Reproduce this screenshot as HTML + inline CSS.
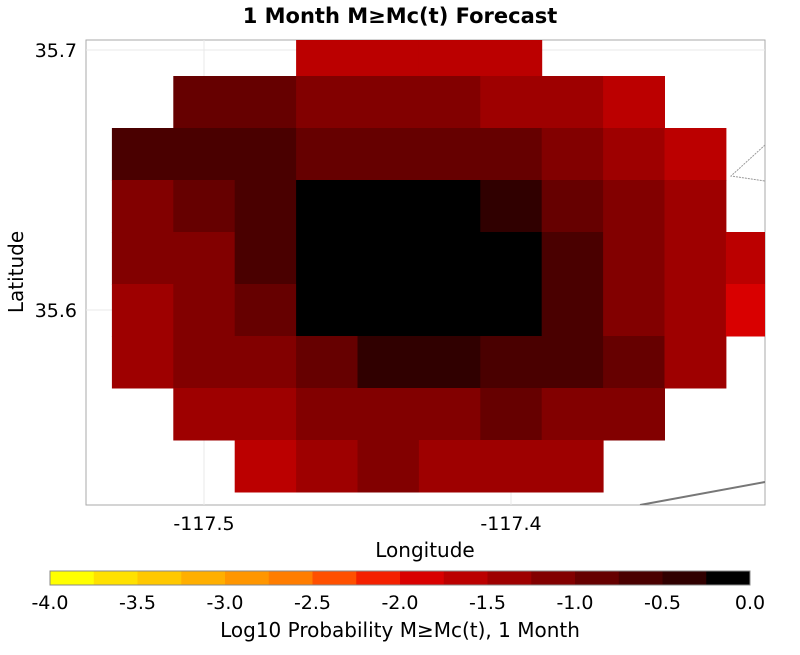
<!DOCTYPE html>
<html><head><meta charset="utf-8"><style>
body{margin:0;background:#fff;font-family:"Liberation Sans","DejaVu Sans",sans-serif}
</style></head><body>
<svg id="chart" width="800" height="650" xmlns="http://www.w3.org/2000/svg" font-family="DejaVu Sans, Liberation Sans, sans-serif">
<defs><clipPath id="pc"><rect x="86" y="40" width="679" height="465"/></clipPath></defs>
<text x="400" y="23" text-anchor="middle" font-size="21" font-weight="bold">1 Month M≥Mc(t) Forecast</text>
<rect x="86" y="40" width="679" height="465" fill="#fff" stroke="#aaa"/>
<g id="grid" stroke="#e8e8e8" stroke-width="1"></g>
<g id="cells" clip-path="url(#pc)"></g>
<g clip-path="url(#pc)">
<polyline points="765,145 731,176 765,181" fill="none" stroke="#999" stroke-dasharray="2,1" stroke-width="1"/>
<line x1="640" y1="505" x2="765" y2="482" stroke="#777" stroke-width="2"/>
</g>
<g id="axes" font-size="19" fill="#000"></g>
<text x="425" y="557" text-anchor="middle" font-size="20">Longitude</text>
<text transform="translate(23,272) rotate(-90)" text-anchor="middle" font-size="20">Latitude</text>
<g id="cbar"></g>
<text x="400" y="637" text-anchor="middle" font-size="20">Log10 Probability M≥Mc(t), 1 Month</text>
</svg>
<script>
const lonCenters=[-117.52,-117.50,-117.48,-117.46,-117.44,-117.42,-117.40,-117.38,-117.36,-117.34,-117.32];
const latCenters=[35.70,35.68,35.66,35.64,35.62,35.60,35.58,35.56,35.54];
// null = no cell
const values=[
[null,null,null,-1.6,-1.6,-1.6,-1.6,null,null,null,null],
[null,-0.9,-0.9,-1.1,-1.1,-1.1,-1.4,-1.4,-1.6,null,null],
[-0.6,-0.6,-0.6,-0.9,-0.9,-0.9,-0.9,-1.1,-1.4,-1.6,null],
[-1.1,-0.9,-0.6,-0.1,-0.1,-0.1,-0.4,-0.9,-1.1,-1.4,null],
[-1.1,-1.1,-0.6,-0.1,-0.1,-0.1,-0.1,-0.6,-1.1,-1.4,-1.6],
[-1.4,-1.1,-0.9,-0.1,-0.1,-0.1,-0.1,-0.6,-1.1,-1.4,-1.9],
[-1.4,-1.1,-1.1,-0.9,-0.4,-0.4,-0.6,-0.6,-0.9,-1.4,null],
[null,-1.4,-1.4,-1.1,-1.1,-1.1,-0.9,-1.1,-1.1,null,null],
[null,null,-1.6,-1.4,-1.1,-1.4,-1.4,-1.4,null,null,null]
];
const xTicks=[-117.5,-117.4];
const yTicks=[35.7,35.6];
const cbTicks=[-4.0,-3.5,-3.0,-2.5,-2.0,-1.5,-1.0,-0.5,0.0];
const cbColors=["#ffff00","#ffe100","#ffc800","#ffaf00","#ff9600","#ff7d00","#ff5000","#f42000","#d90000","#bb0000","#9e0000","#820000","#660000","#4a0000","#300000","#000000"];
const NS="http://www.w3.org/2000/svg";
const X=v=>204+(v+117.5)*3070;
const Y=v=>50-(v-35.7)*2600;
const CB=v=>50+(v+4)*175;
const dLon=0.02,dLat=0.02;
function colorOf(v){let i=Math.floor((v+4)/0.25);i=Math.max(0,Math.min(15,i));return cbColors[i];}
function mk(tag,attrs,parent){const e=document.createElementNS(NS,tag);for(const k in attrs)e.setAttribute(k,attrs[k]);parent.appendChild(e);return e;}
const grid=document.getElementById('grid');
xTicks.forEach(t=>{const l=mk('line',{x1:X(t),x2:X(t),y1:40,y2:505},grid);});
yTicks.forEach(t=>{const l=mk('line',{x1:86,x2:765,y1:Y(t),y2:Y(t)},grid);});
const cells=document.getElementById('cells');
values.forEach((row,r)=>row.forEach((v,c)=>{if(v===null)return;
const x0=X(lonCenters[c]-dLon/2),x1=X(lonCenters[c]+dLon/2),y0=Y(latCenters[r]+dLat/2),y1=Y(latCenters[r]-dLat/2);
const e=mk('rect',{x:x0,y:y0,width:x1-x0+0.5,height:y1-y0+0.5,fill:colorOf(v)},cells);

}));
const axes=document.getElementById('axes');
xTicks.forEach(t=>{const e=mk('text',{x:X(t),y:530,'text-anchor':'middle'},axes);e.textContent=t.toFixed(1);

});
yTicks.forEach(t=>{const e=mk('text',{x:77,y:Y(t)+7,'text-anchor':'end'},axes);e.textContent=t.toFixed(1);

});
const cb=document.getElementById('cbar');
cbColors.forEach((c,i)=>{const v=-4+i*0.25;const e=mk('rect',{x:CB(v),y:571,width:CB(v+0.25)-CB(v)+0.3,height:14,fill:c},cb);

});
mk('rect',{x:50,y:571,width:700,height:14,fill:'none',stroke:'#888'},cb);
cbTicks.forEach(t=>{const e=mk('text',{x:CB(t),y:609,'text-anchor':'middle','font-size':19},cb);e.textContent=t.toFixed(1);

});
</script>
</body></html>
